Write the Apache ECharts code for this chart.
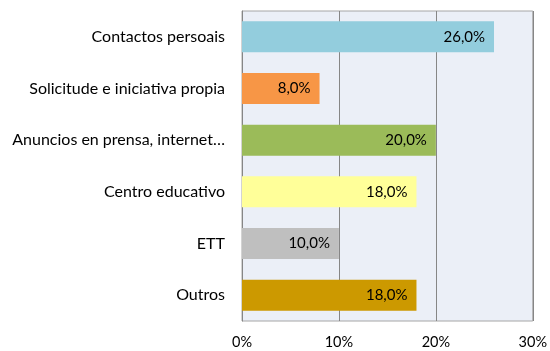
<!DOCTYPE html>
<html>
<head>
<meta charset="utf-8">
<script src="https://cdn.jsdelivr.net/npm/echarts@6/dist/echarts.min.js"></script>
<style>
  html, body { margin: 0; padding: 0; background: #fff; }
  #chart { width: 550px; height: 351px; }
</style>
</head>
<body>
<div id="chart"></div>
<script>
// Channels, listed top to bottom
const categories = [
  'Contactos persoais',
  'Solicitude e iniciativa propia',
  'Anuncios en prensa, internet…',
  'Centro educativo',
  'ETT',
  'Outros'
];
const values = [26, 8, 20, 18, 10, 18];
const barColors = ['#93CDDD', '#F79646', '#9BBB59', '#FFFF99', '#BFBFBF', '#CC9900'];
const xTicks = [0, 10, 20, 30];

const FONT = 'Lato, "Open Sans", sans-serif';

const chart = echarts.init(document.getElementById('chart'));
chart.setOption({
  animation: false,
  grid: {
    left: 242, right: 13, top: 11, bottom: 30,
    show: true,
    backgroundColor: '#EBEFF7',
    borderColor: '#A6A6A6',
    borderWidth: 1
  },
  xAxis: {
    type: 'value',
    min: xTicks[0],
    max: xTicks[xTicks.length - 1],
    interval: 10,
    axisLine: { show: false },
    axisTick: { show: false },
    splitLine: { show: true, lineStyle: { color: '#868686', width: 1 } },
    axisLabel: {
      formatter: v => v + '%',
      color: '#000',
      fontFamily: FONT,
      fontSize: 14.5,
      margin: 14
    }
  },
  yAxis: {
    type: 'category',
    data: categories,
    inverse: true,
    axisLine: { show: true, lineStyle: { color: '#868686' } },
    axisTick: { show: false },
    axisLabel: {
      color: '#000',
      fontFamily: FONT,
      fontSize: 16,
      margin: 17
    }
  },
  series: [{
    type: 'bar',
    data: values.map((v, i) => ({ value: v, itemStyle: { color: barColors[i] } })),
    barCategoryGap: '40%',
    label: {
      show: true,
      position: 'insideRight',
      distance: 9,
      color: '#000',
      fontFamily: FONT,
      fontSize: 15,
      formatter: p => p.value.toFixed(1).replace('.', ',') + '%'
    }
  }]
});
</script>
</body>
</html>
